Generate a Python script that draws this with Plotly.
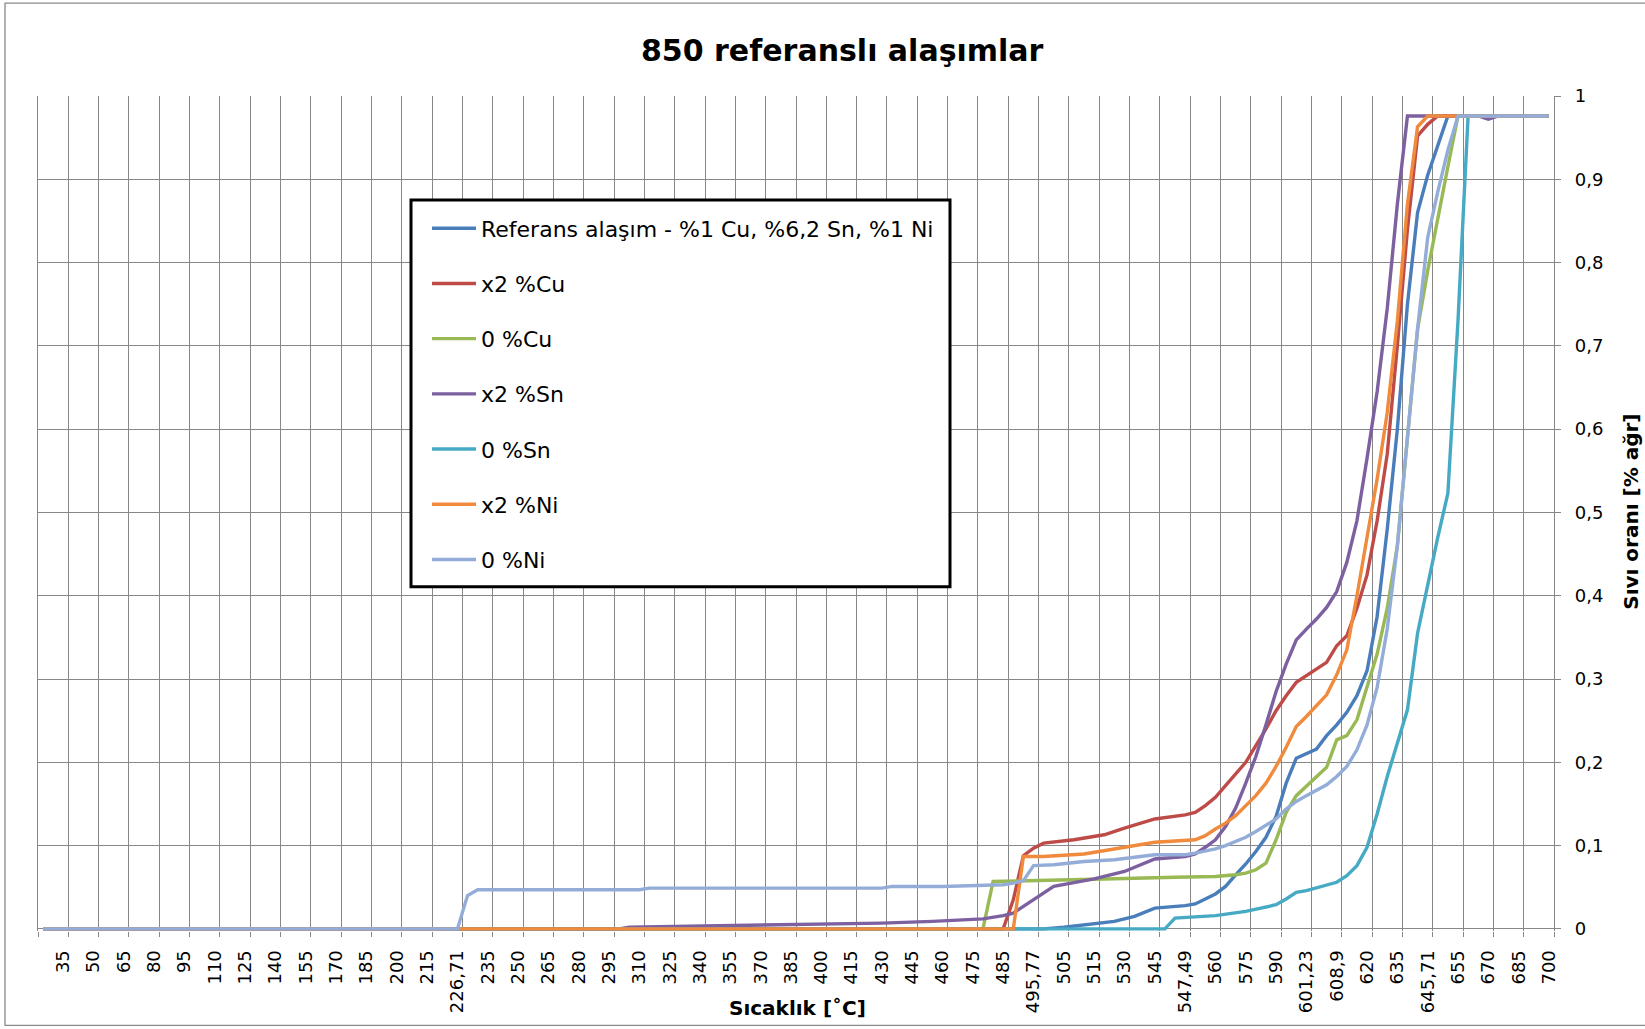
import plotly.graph_objects as go

# ---------------- data ----------------
# Category axis (temperature, °C). Only every third category is labelled in the chart;
# the unlabelled intermediate categories are estimated.
temps = (list(range(25, 226, 5)) + [226.71, 228, 230, 235] + list(range(240, 476, 5)) +
         [480, 483, 485, 490, 495, 495.77, 500, 503, 505, 510, 513, 515, 520, 525, 530,
          535, 540, 545, 546, 547, 547.49, 550, 555, 560, 565, 570, 575, 580, 585, 590,
          595, 600, 601.23, 605, 607, 608.9, 610, 615, 620, 625, 630, 635, 640, 645, 645.71,
          650, 652.5, 655] + list(range(660, 701, 5)))

tick_temps = [35, 50, 65, 80, 95, 110, 125, 140, 155, 170, 185, 200, 215, 226.71, 235, 250,
              265, 280, 295, 310, 325, 340, 355, 370, 385, 400, 415, 430, 445, 460, 475, 485,
              495.77, 505, 515, 530, 545, 547.49, 560, 575, 590, 601.23, 608.9, 620, 635,
              645.71, 655, 670, 685, 700]
tick_labels = ["35", "50", "65", "80", "95", "110", "125", "140", "155", "170", "185", "200",
               "215", "226,71", "235", "250", "265", "280", "295", "310", "325", "340", "355",
               "370", "385", "400", "415", "430", "445", "460", "475", "485", "495,77", "505",
               "515", "530", "545", "547,49", "560", "575", "590", "601,23", "608,9", "620",
               "635", "645,71", "655", "670", "685", "700"]

y_ticks = [0, 0.1, 0.2, 0.3, 0.4, 0.5, 0.6, 0.7, 0.8, 0.9, 1.0]
y_labels = ["0", "0,1", "0,2", "0,3", "0,4", "0,5", "0,6", "0,7", "0,8", "0,9", "1"]

# series: liquid fraction at (breakpoint) temperatures
ref_T = [25, 500, 505, 513, 525, 535, 545, 547.49, 550, 560, 565, 570, 575, 580, 585, 590,
         595, 600, 601.23, 605, 607, 608.9, 610, 615, 620, 625, 630, 635, 640, 645, 645.71,
         650, 652.5, 700]
ref_v = [0, 0, 0.002, 0.005, 0.009, 0.015, 0.025, 0.028, 0.03, 0.042, 0.051, 0.065, 0.078,
         0.093, 0.11, 0.135, 0.175, 0.205, 0.21, 0.216, 0.232, 0.245, 0.26, 0.28, 0.31, 0.375,
         0.48, 0.60, 0.75, 0.86, 0.905, 0.94, 0.976, 0.976]

cu2_T = [25, 485, 490, 495, 495.77, 500, 510, 515, 520, 530, 545, 547.49, 550, 555, 560, 565,
         570, 575, 580, 585, 590, 595, 600, 601.23, 605, 607, 608.9, 610, 615, 620, 625, 630,
         635, 640, 645, 645.71, 650, 700]
cu2_v = [0, 0, 0.035, 0.088, 0.097, 0.103, 0.107, 0.111, 0.113, 0.121, 0.132, 0.137, 0.14,
         0.148, 0.158, 0.172, 0.186, 0.2, 0.22, 0.24, 0.262, 0.28, 0.296, 0.304, 0.311, 0.32,
         0.34, 0.352, 0.385, 0.425, 0.49, 0.57, 0.70, 0.84, 0.952, 0.966, 0.976, 0.976]

cu0_T = [25, 480, 483, 500, 520, 547, 550, 560, 570, 575, 580, 585, 590, 595, 600, 601.23,
         605, 607, 608.9, 610, 615, 620, 625, 630, 635, 640, 645, 645.71, 650, 652.5, 655, 700]
cu0_v = [0, 0, 0.057, 0.058, 0.06, 0.062, 0.062, 0.063, 0.065, 0.067, 0.071, 0.079, 0.107,
         0.14, 0.16, 0.171, 0.182, 0.194, 0.227, 0.232, 0.251, 0.29, 0.33, 0.385, 0.46, 0.59,
         0.72, 0.79, 0.855, 0.915, 0.976, 0.976]

sn2_T = [25, 300, 305, 365, 430, 455, 480, 485, 490, 503, 515, 530, 545, 547.49, 550, 555,
         560, 565, 570, 575, 580, 585, 590, 595, 600, 601.23, 605, 607, 608.9, 610, 615, 620,
         625, 630, 635, 640, 665, 670, 675, 700]
sn2_v = [0, 0, 0.002, 0.004, 0.007, 0.009, 0.012, 0.016, 0.019, 0.051, 0.06, 0.069, 0.084,
         0.087, 0.09, 0.098, 0.107, 0.123, 0.145, 0.175, 0.207, 0.245, 0.285, 0.318, 0.347,
         0.36, 0.372, 0.386, 0.405, 0.44, 0.49, 0.565, 0.645, 0.745, 0.87, 0.976, 0.976,
         0.972, 0.976, 0.976]

sn0_T = [25, 546, 547, 550, 560, 575, 585, 590, 595, 600, 601.23, 605, 607, 608.9, 610, 615,
         620, 625, 630, 635, 640, 645, 645.71, 650, 652.5, 655, 660, 700]
sn0_v = [0, 0, 0.013, 0.014, 0.016, 0.021, 0.026, 0.029, 0.036, 0.044, 0.046, 0.049, 0.052,
         0.056, 0.064, 0.076, 0.098, 0.138, 0.183, 0.224, 0.263, 0.355, 0.415, 0.47, 0.523,
         0.73, 0.976, 0.976]

ni2_T = [25, 490, 495, 500, 513, 525, 545, 550, 555, 560, 565, 570, 575, 580, 585, 590, 595,
         600, 601.23, 605, 607, 608.9, 610, 615, 620, 625, 630, 635, 640, 645, 645.71, 700]
ni2_v = [0, 0, 0.087, 0.087, 0.09, 0.096, 0.104, 0.107, 0.112, 0.12, 0.127, 0.136, 0.148,
         0.16, 0.175, 0.195, 0.218, 0.243, 0.255, 0.268, 0.281, 0.305, 0.335, 0.40, 0.47,
         0.54, 0.62, 0.73, 0.87, 0.963, 0.976, 0.976]

ni0_T = [25, 226.71, 228, 230, 310, 315, 430, 435, 460, 485, 490, 495, 495.77, 503, 513, 525,
         545, 547.49, 550, 560, 565, 570, 575, 580, 585, 590, 595, 600, 601.23, 605, 607,
         608.9, 610, 615, 620, 625, 630, 635, 640, 645, 645.71, 650, 652.5, 655, 700]
ni0_v = [0, 0, 0.04, 0.047, 0.047, 0.049, 0.049, 0.051, 0.051, 0.053, 0.055, 0.058, 0.076,
         0.077, 0.081, 0.083, 0.089, 0.089, 0.091, 0.096, 0.1, 0.105, 0.11, 0.117, 0.124,
         0.132, 0.144, 0.153, 0.16, 0.166, 0.173, 0.183, 0.195, 0.215, 0.245, 0.29, 0.36,
         0.46, 0.59, 0.72, 0.83, 0.885, 0.935, 0.976, 0.976]

series = [
    ("Referans alaşım - %1 Cu, %6,2 Sn, %1 Ni", ref_T, ref_v, "#4A7EBB"),
    ("x2 %Cu", cu2_T, cu2_v, "#BE4B48"),
    ("0 %Cu", cu0_T, cu0_v, "#98B954"),
    ("x2 %Sn", sn2_T, sn2_v, "#7D60A0"),
    ("0 %Sn", sn0_T, sn0_v, "#46AAC5"),
    ("x2 %Ni", ni2_T, ni2_v, "#F08A3C"),
    ("0 %Ni", ni0_T, ni0_v, "#93ADD8"),
]

# ---------------- layout geometry ----------------
W, H = 1645, 1029
L, R = 38, 1554          # plot area left/right (px)
T, B = 96, 931.5         # plot area top/bottom (px)
PW, PH = R - L, B - T
FONT = "DejaVu Sans"
GRID = "#878787"


def px_x(X):
    return (X - L) / PW


def px_y(Y):
    return (B - Y) / PH


pos = {t: i for i, t in enumerate(temps)}

fig = go.Figure()
for i, (name, Ts, vs, col) in enumerate(series):
    fig.add_trace(go.Scatter(
        x=[pos[t] for t in Ts], y=vs, mode="lines", name=name,
        line=dict(color=col, width=3.4), legendgroup=f"g{i}",
        hoverinfo="skip"))

label_idx = [pos[t] for t in tick_temps]
grid_vals = [-0.5] + [i + 0.5 for i in label_idx]

fig.update_layout(
    width=W, height=H, autosize=False,
    margin=dict(l=L, r=W - R, t=T, b=H - B, pad=0),
    paper_bgcolor="white", plot_bgcolor="white",
    font=dict(family=FONT, color="black"),
    showlegend=True,
    legend=dict(
        x=px_x(427), y=px_y(207.5), xanchor="left", yanchor="top",
        bgcolor="rgba(0,0,0,0)", borderwidth=0,
        font=dict(family=FONT, size=22, color="black"),
        traceorder="grouped", tracegroupgap=23.6, itemwidth=44,
    ),
    xaxis=dict(
        range=[-0.5, len(temps) - 0.5], tickmode="array",
        tickvals=grid_vals, ticktext=[""] + tick_labels,
        tickangle=-90, ticklabelshift=-5, ticklabelstandoff=6,
        tickfont=dict(family=FONT, size=18, color="black"),
        showgrid=True, gridcolor=GRID, gridwidth=1.3,
        ticks="outside", ticklen=5, tickcolor=GRID, tickwidth=1.3,
        showline=False, zeroline=False, fixedrange=True,
    ),
    yaxis=dict(
        range=[-0.0025, 1.0], side="right", tickmode="array",
        tickvals=y_ticks, ticktext=y_labels,
        tickfont=dict(family=FONT, size=18, color="black"),
        showgrid=True, gridcolor=GRID, gridwidth=1.3,
        zeroline=True, zerolinecolor=GRID, zerolinewidth=1.3,
        showline=True, mirror=True, linecolor=GRID, linewidth=1.3,
        ticks="outside", ticklen=6, tickcolor=GRID, tickwidth=1.3,
        ticklabelstandoff=10, fixedrange=True,
    ),
    shapes=[
        # legend box
        dict(type="rect", xref="paper", yref="paper",
             x0=px_x(411), x1=px_x(950), y0=px_y(587), y1=px_y(200),
             line=dict(color="black", width=3), fillcolor="white", layer="above"),
        # chart outer border
        dict(type="rect", xref="paper", yref="paper",
             x0=px_x(5), x1=px_x(1660), y0=px_y(1026), y1=px_y(3),
             line=dict(color="#8a8a8a", width=1.3), fillcolor="rgba(0,0,0,0)", layer="below"),
    ],
    annotations=[
        dict(text="<b>850 referanslı alaşımlar</b>", xref="paper", yref="paper",
             x=px_x(842), y=px_y(50), xanchor="center", yanchor="middle", showarrow=False,
             font=dict(family=FONT, size=30, color="black")),
        dict(text="<b>Sıcaklık [˚C]</b>", xref="paper", yref="paper",
             x=px_x(797), y=px_y(1009), xanchor="center", yanchor="middle", showarrow=False,
             font=dict(family=FONT, size=20, color="black")),
        dict(text="<b>Sıvı oranı [% ağr]</b>", xref="paper", yref="paper",
             x=px_x(1631), y=px_y(512), xanchor="center", yanchor="middle", showarrow=False,
             textangle=-90, font=dict(family=FONT, size=20, color="black")),
    ],
)

fig.write_html("out.html", config={"displayModeBar": False},
               post_script="document.body.style.margin='0px';")
